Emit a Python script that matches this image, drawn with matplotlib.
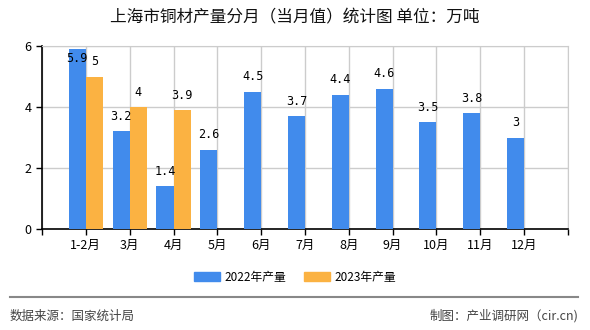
import matplotlib
matplotlib.use("Agg")
import matplotlib.pyplot as plt
from matplotlib.patches import Patch

plt.rcParams['font.family'] = ['Noto Sans CJK SC', 'DejaVu Sans']

# data
months = ['1-2月', '3月', '4月', '5月', '6月', '7月', '8月', '9月', '10月', '11月', '12月']
prod_2022 = [5.9, 3.2, 1.4, 2.6, 4.5, 3.7, 4.4, 4.6, 3.5, 3.8, 3]
prod_2023 = [5, 4, 3.9]

blue = '#418bec'
orange = '#fbb242'

fig = plt.figure(figsize=(5.9, 3.3), dpi=100)
ax = fig.add_axes([42/590, 1-229/330, 526/590, 183/330])

x = list(range(1, len(months) + 1))
w = 0.39
ax.bar(x, prod_2022, width=-w, align='edge', color=blue, zorder=3)
ax.bar(x[:len(prod_2023)], prod_2023, width=w, align='edge', color=orange, zorder=3)

ax.set_xlim(0, 12)
ax.set_ylim(0, 6)
ax.set_yticks([0, 2, 4, 6])
ax.set_xticks(range(0, 13))
ax.set_xticklabels([''] + months + [''])
ax.tick_params(axis='both', labelsize=9, length=4, width=1, colors='black')
ax.grid(True, color='#cccccc', linewidth=1, zorder=0)
for s in ['top', 'right']:
    ax.spines[s].set_color('#cccccc')
for s in ['left', 'bottom']:
    ax.spines[s].set_color('black')
    ax.spines[s].set_linewidth(1.2)

lab_font = ['DejaVu Sans Mono', 'Noto Sans CJK SC']

def put_labels(xs, vals, shift):
    for xi, v in zip(xs, vals):
        txt = '%g' % v
        if v > 5.5:
            ax.annotate(txt, (xi + shift, 6), xytext=(0, -4), textcoords='offset points',
                        ha='center', va='top', fontsize=8.5, family=lab_font, zorder=4)
        else:
            ax.annotate(txt, (xi + shift, v), xytext=(0, 6), textcoords='offset points',
                        ha='center', va='bottom', fontsize=8.5, family=lab_font, zorder=4)

put_labels(x, prod_2022, -w/2)
put_labels(x[:len(prod_2023)], prod_2023, w/2)

fig.text(0.5, 1-18/330, '上海市铜材产量分月（当月值）统计图 单位：万吨',
         ha='center', va='center', fontsize=12, color='#111111')

handles = [Patch(color=blue, label='2022年产量'), Patch(color=orange, label='2023年产量')]
fig.legend(handles=handles, loc='center', bbox_to_anchor=(0.5, 1-277/330), ncol=2,
           frameon=False, fontsize=8.5, handlelength=2.2, handleheight=0.8,
           columnspacing=1.5, handletextpad=0.4)

fig.add_artist(plt.Line2D([10/590, 578/590], [1-297/330, 1-297/330],
                          color='#888888', linewidth=1.5))
fig.text(10/590, 1-316/330, '数据来源：国家统计局', ha='left', va='center',
         fontsize=9, color='#444444')
fig.text(578/590, 1-316/330, '制图：产业调研网（cir.cn)', ha='right', va='center',
         fontsize=9, color='#444444')

fig.savefig('out.png', dpi=100)
